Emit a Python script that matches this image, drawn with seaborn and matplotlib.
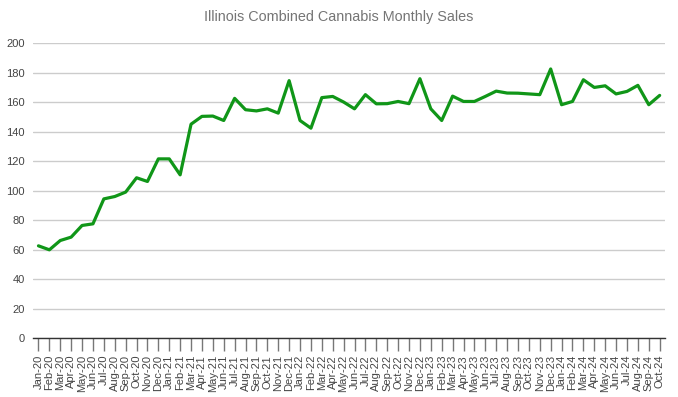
import numpy as np
import pandas as pd
import matplotlib
matplotlib.use('Agg')
import matplotlib.pyplot as plt
import seaborn as sns

# Monthly sales (millions USD)
months = ['Jan-20', 'Feb-20', 'Mar-20', 'Apr-20', 'May-20', 'Jun-20', 'Jul-20', 'Aug-20', 'Sep-20', 'Oct-20', 'Nov-20', 'Dec-20',
          'Jan-21', 'Feb-21', 'Mar-21', 'Apr-21', 'May-21', 'Jun-21', 'Jul-21', 'Aug-21', 'Sep-21', 'Oct-21', 'Nov-21', 'Dec-21',
          'Jan-22', 'Feb-22', 'Mar-22', 'Apr-22', 'May-22', 'Jun-22', 'Jul-22', 'Aug-22', 'Sep-22', 'Oct-22', 'Nov-22', 'Dec-22',
          'Jan-23', 'Feb-23', 'Mar-23', 'Apr-23', 'May-23', 'Jun-23', 'Jul-23', 'Aug-23', 'Sep-23', 'Oct-23', 'Nov-23', 'Dec-23',
          'Jan-24', 'Feb-24', 'Mar-24', 'Apr-24', 'May-24', 'Jun-24', 'Jul-24', 'Aug-24', 'Sep-24', 'Oct-24']
sales = [62.6, 59.9, 66.2, 68.5, 76.4, 77.5, 94.4, 96.0, 99.0, 108.7, 106.2, 121.5,
         121.5, 110.7, 145.0, 150.3, 150.5, 147.5, 162.5, 154.8, 154.0, 155.4, 152.5, 174.5,
         147.5, 142.3, 163.0, 163.8, 160.0, 155.4, 165.0, 158.8, 158.9, 160.4, 158.9, 175.8,
         155.4, 147.5, 164.0, 160.4, 160.4, 163.8, 167.4, 166.1, 166.0, 165.5, 165.0, 182.4,
         158.2, 160.4, 175.1, 169.9, 171.0, 165.5, 167.2, 171.3, 158.2, 164.5]

df = pd.DataFrame({'idx': np.arange(len(months)), 'sales': sales})

sns.set_style('white')
plt.rcParams['font.family'] = ['Liberation Sans', 'DejaVu Sans']

fig = plt.figure(figsize=(6.78, 3.97), dpi=100)
ax = fig.add_axes([0.0487, 0.148, 0.9323, 0.7437])

sns.lineplot(data=df, x='idx', y='sales', color='#109618', linewidth=2.3, ax=ax)

ax.set_xlim(-0.5, len(months) - 0.5)
ax.set_ylim(0, 200)
ax.set_yticks(range(0, 201, 20))
ax.yaxis.grid(True, color='#cccccc', linewidth=1)
ax.set_axisbelow(True)
for s in ['top', 'right', 'left']:
    ax.spines[s].set_visible(False)
ax.spines['bottom'].set_color('#333333')
ax.spines['bottom'].set_linewidth(1)

ax.set_xticks(df['idx'])
ax.set_xticklabels(months, rotation=90, fontsize=8, color='#444444')
ax.tick_params(axis='x', length=9, width=1, color='#777777', pad=3, bottom=True)
ax.tick_params(axis='y', length=0, labelsize=8, labelcolor='#444444', pad=6)
ax.set_xlabel('')
ax.set_ylabel('')

fig.text(0.5, 0.958, 'Illinois Combined Cannabis Monthly Sales', ha='center', va='center',
         fontsize=10.4, color='#757575')

fig.savefig('out.png', dpi=100)
